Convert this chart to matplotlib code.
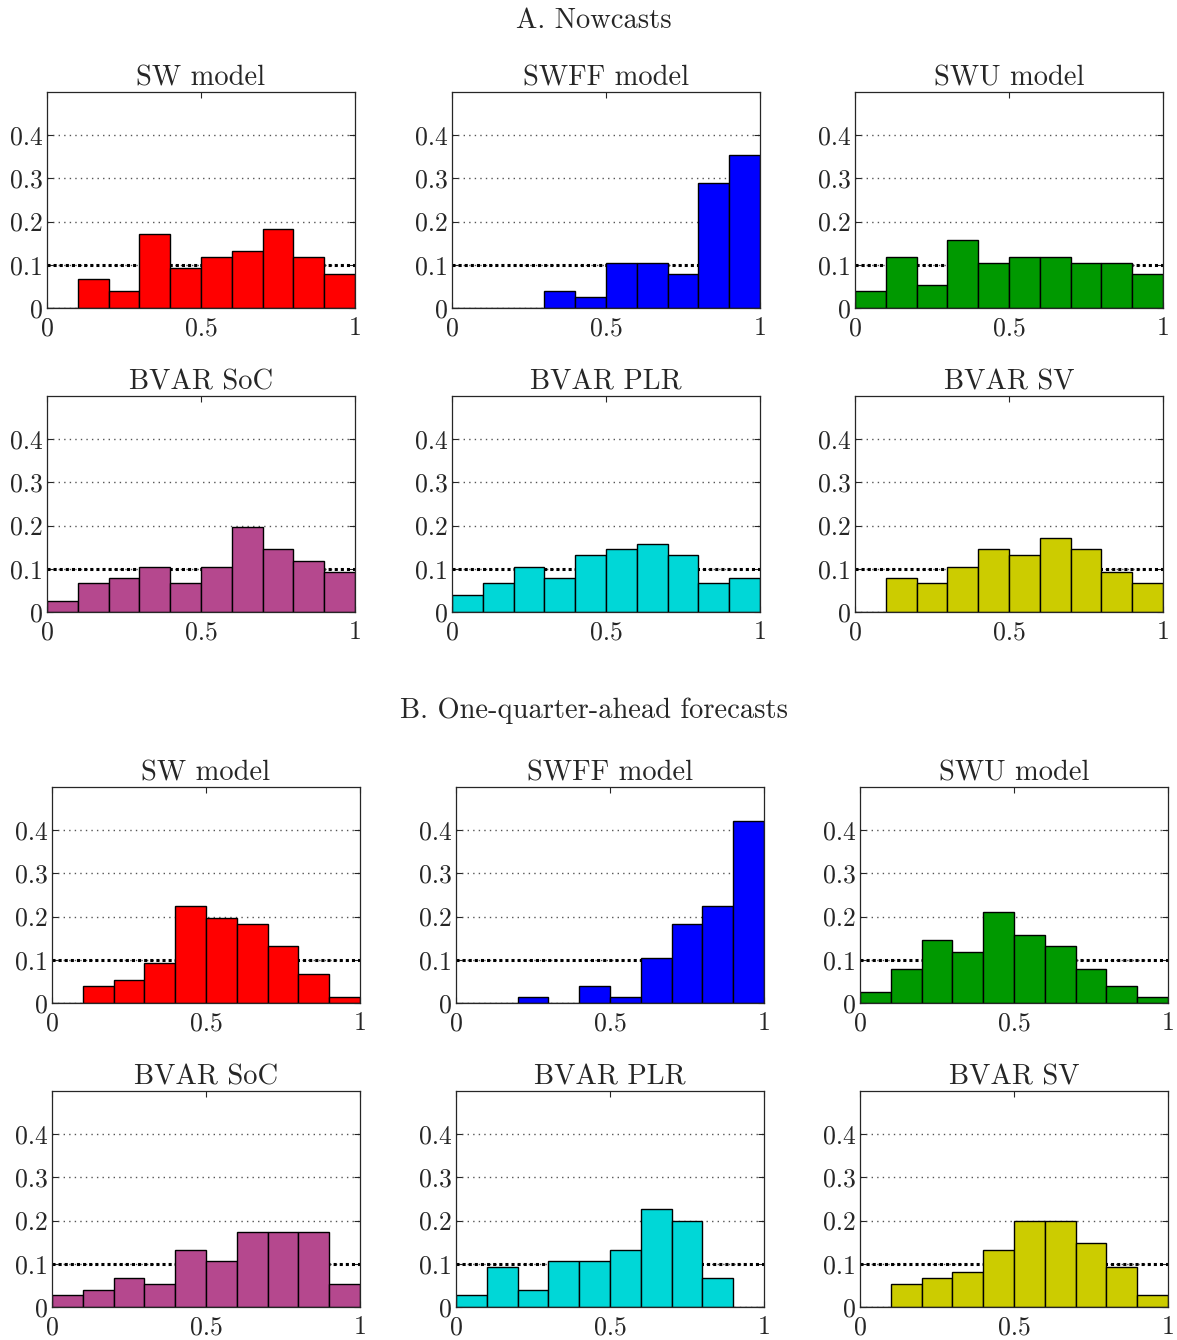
import numpy as np
import matplotlib.pyplot as plt

plt.rcParams['font.family'] = 'serif'
plt.rcParams['font.serif'] = ['cmr10']
plt.rcParams['mathtext.fontset'] = 'cm'
plt.rcParams['axes.formatter.use_mathtext'] = True

# PIT histogram: 10 equal bins on [0, 1]
bin_edges = np.linspace(0, 1, 11)

model_names = ['SW model', 'SWFF model', 'SWU model', 'BVAR SoC', 'BVAR PLR', 'BVAR SV']
bar_colors = ['#ff0000', '#0000ff', '#009900', '#b5488e', '#00d7d7', '#cccc00']

# relative frequencies, nowcasts
now_sw = [0.0, 0.066, 0.039, 0.171, 0.092, 0.118, 0.132, 0.184, 0.118, 0.079]
now_swff = [0.0, 0.0, 0.0, 0.039, 0.026, 0.105, 0.105, 0.079, 0.289, 0.355]
now_swu = [0.039, 0.118, 0.053, 0.158, 0.105, 0.118, 0.118, 0.105, 0.105, 0.079]
now_soc = [0.026, 0.066, 0.079, 0.105, 0.066, 0.105, 0.197, 0.145, 0.118, 0.092]
now_plr = [0.039, 0.066, 0.105, 0.079, 0.132, 0.145, 0.158, 0.132, 0.066, 0.079]
now_sv = [0.0, 0.079, 0.066, 0.105, 0.145, 0.132, 0.171, 0.145, 0.092, 0.066]

# relative frequencies, one-quarter-ahead forecasts
one_sw = [0.0, 0.039, 0.053, 0.092, 0.224, 0.197, 0.184, 0.132, 0.066, 0.013]
one_swff = [0.0, 0.0, 0.013, 0.0, 0.039, 0.013, 0.105, 0.184, 0.224, 0.421]
one_swu = [0.026, 0.079, 0.145, 0.118, 0.211, 0.158, 0.132, 0.079, 0.039, 0.013]
one_soc = [0.027, 0.040, 0.067, 0.053, 0.133, 0.107, 0.173, 0.173, 0.173, 0.053]
one_plr = [0.027, 0.093, 0.040, 0.107, 0.107, 0.133, 0.227, 0.200, 0.067, 0.0]
one_sv = [0.0, 0.053, 0.067, 0.080, 0.133, 0.200, 0.200, 0.147, 0.093, 0.027]

nowcasts = [now_sw, now_swff, now_swu, now_soc, now_plr, now_sv]
one_ahead = [one_sw, one_swff, one_swu, one_soc, one_plr, one_sv]

W, H = 1177, 1340
fig = plt.figure(figsize=(W / 100, H / 100), dpi=100)

ax_w, ax_h = 308, 216
row_tops = [92, 396, 787, 1091]
col_lefts_a = [47, 452, 855]
col_lefts_b = [52, 456, 860]

axis_color = '#262626'


def draw_panel(left, top, freqs, color, title):
    ax = fig.add_axes([left / W, 1 - (top + ax_h) / H, ax_w / W, ax_h / H])
    ax.bar(bin_edges[:-1], freqs, width=np.diff(bin_edges), align='edge',
           color=color, edgecolor='black', linewidth=1.0, zorder=2)
    # uniform-distribution reference line
    ax.axhline(0.1, color='black', linestyle=(0, (1, 1)), linewidth=2.2, zorder=1.5)
    ax.set_xlim(0, 1)
    ax.set_ylim(0, 0.5)
    ax.set_xticks([0, 0.5, 1])
    ax.set_xticklabels(['0', '0.5', '1'])
    ax.set_yticks([0, 0.1, 0.2, 0.3, 0.4])
    ax.set_yticklabels(['0', '0.1', '0.2', '0.3', '0.4'])
    ax.yaxis.grid(True, linestyle=(0, (1, 3)), color='#555555', linewidth=1.0)
    ax.set_axisbelow(True)
    ax.tick_params(direction='in', top=True, right=True, length=4,
                   color=axis_color, labelcolor=axis_color, labelsize=18.5)
    ax.tick_params(axis='x', pad=6)
    ax.tick_params(axis='y', pad=3)
    for s in ax.spines.values():
        s.set_color(axis_color)
        s.set_linewidth(0.9)
    ax.set_title(title, fontsize=20.5, pad=5, color=axis_color)
    return ax


for i in range(6):
    r, c = divmod(i, 3)
    draw_panel(col_lefts_a[c], row_tops[r], nowcasts[i], bar_colors[i], model_names[i])
    draw_panel(col_lefts_b[c], row_tops[r + 2], one_ahead[i], bar_colors[i], model_names[i])

fig.text(594 / W, 1 - 21 / H, 'A. Nowcasts', ha='center', va='center',
         fontsize=20.5, color=axis_color)
fig.text(594 / W, 1 - 711 / H, 'B. One-quarter-ahead forecasts', ha='center', va='center',
         fontsize=20.5, color=axis_color)

plt.savefig('out.png', dpi=100, facecolor='white')
plt.close()
